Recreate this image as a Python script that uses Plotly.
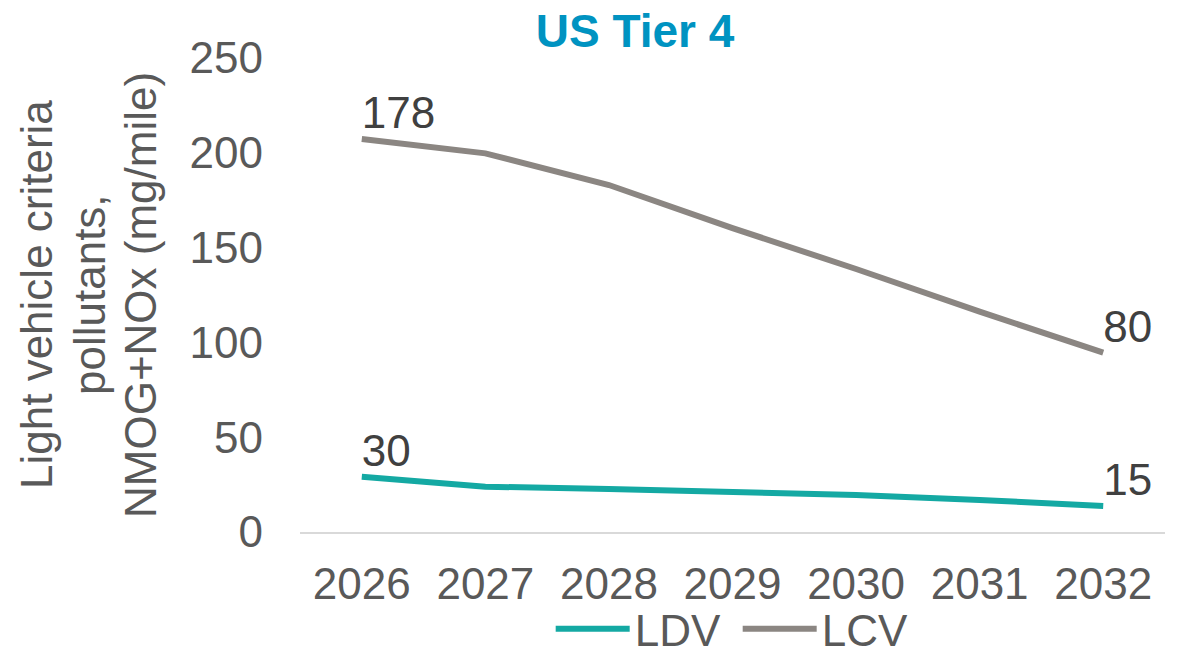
import plotly.graph_objects as go

years = ["2026", "2027", "2028", "2029", "2030", "2031", "2032"]
ldv = [29.2, 23.9, 22.7, 21.3, 19.5, 16.9, 13.7]
lcv = [207.3, 199.7, 183.0, 160.3, 138.7, 116.2, 94.6]
ldv_labels = ["30", "", "", "", "", "", "15"]
lcv_labels = ["178", "", "", "", "", "", "80"]
y_ticks = [0, 50, 100, 150, 200, 250]
y_title_lines = ["Light vehicle criteria", "pollutants,", "NMOG+NOx (mg/mile)"]

FONT = "Liberation Sans, Arial, sans-serif"
GRAY_TXT = "#595959"
FS = 44

W, H = 1177, 656
L, R, T, B = 300, 12, 58, 124
PW = W - L - R

fig = go.Figure()
fig.add_trace(go.Scatter(
    x=years, y=ldv, name="LDV", mode="lines+text",
    text=ldv_labels, textposition="top right",
    textfont=dict(family=FONT, size=FS, color="#404040"),
    line=dict(color="#14A9A3", width=6),
))
fig.add_trace(go.Scatter(
    x=years, y=lcv, name="LCV", mode="lines+text",
    text=lcv_labels, textposition="top right",
    textfont=dict(family=FONT, size=FS, color="#404040"),
    line=dict(color="#8B8682", width=6),
))

# y-axis title as three rotated lines (tight line spacing like the original)
title_px = [36, 89, 140]
for line, px in zip(y_title_lines, title_px):
    fig.add_annotation(
        text=line, textangle=-90, showarrow=False,
        xref="paper", yref="paper", x=(px - L) / PW, y=0.5,
        xanchor="center", yanchor="middle",
        font=dict(family=FONT, size=FS, color=GRAY_TXT),
    )

fig.update_layout(
    width=W, height=H,
    paper_bgcolor="white", plot_bgcolor="white",
    margin=dict(l=L, r=R, t=T, b=B, autoexpand=False),
    font=dict(family=FONT, color=GRAY_TXT, size=FS),
    title=dict(text="<b>US Tier 4</b>", x=635 / W, xanchor="center",
               y=1 - 31 / H, yanchor="middle", automargin=False,
               font=dict(family=FONT, size=46, color="#0093C1")),
    showlegend=True,
    legend=dict(orientation="h", x=0.506, xanchor="center", y=-0.205, yanchor="middle",
                font=dict(family=FONT, size=FS, color=GRAY_TXT),
                itemwidth=74, entrywidth=98, entrywidthmode="pixels",
                tracegroupgap=0, bgcolor="rgba(0,0,0,0)"),
)
fig.update_xaxes(
    type="category", range=[-0.5, 6.5], showgrid=False, automargin=False,
    showline=True, linecolor="#D9D9D9", linewidth=2,
    ticks="", tickfont=dict(family=FONT, size=FS, color=GRAY_TXT),
    ticklabelstandoff=12,
)
fig.update_yaxes(
    range=[0, 250], tickvals=y_ticks, showgrid=False, zeroline=False,
    showline=False, ticks="", automargin=False,
    tickfont=dict(family=FONT, size=FS, color=GRAY_TXT),
    ticklabelstandoff=36,
)

# remove the browser's default 8px body margin so the figure fills the window
fig.write_html("out.html", config={"displayModeBar": False},
               post_script="document.body.style.margin='0';")
